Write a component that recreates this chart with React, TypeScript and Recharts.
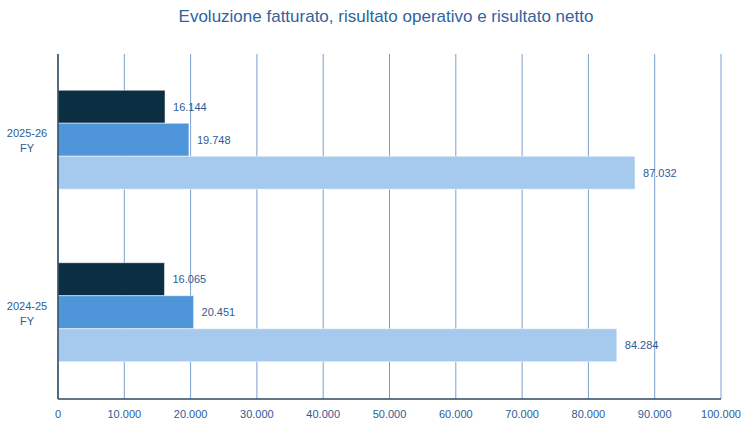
import React from 'react';
import { BarChart, Bar, XAxis, YAxis, CartesianGrid, LabelList } from 'recharts';

const categories = ['2025-26 FY', '2024-25 FY'];
const risultatoNetto = [16144, 16065];
const risultatoOperativo = [19748, 20451];
const fatturato = [87032, 84284];
const xTicks = [0, 10000, 20000, 30000, 40000, 50000, 60000, 70000, 80000, 90000, 100000];

const data = categories.map((name, i) => ({
  name,
  netto: risultatoNetto[i],
  operativo: risultatoOperativo[i],
  fatturato: fatturato[i],
}));

const fmt = (v: any) => String(Math.round(Number(v))).replace(/\B(?=(\d{3})+(?!\d))/g, '.');

const TEXT = '#2E5C96';
const FONT = '"Liberation Sans", Arial, sans-serif';

const YTick = (props: any) => {
  const { x, y, payload } = props;
  const parts = String(payload.value).split(' ');
  return (
    <g>
      <text x={27} y={y - 7} textAnchor="middle" dominantBaseline="central" fill={TEXT} fontSize={11} fontFamily={FONT}>
        {parts[0]}
      </text>
      <text x={27} y={y + 8} textAnchor="middle" dominantBaseline="central" fill={TEXT} fontSize={11} fontFamily={FONT}>
        {parts[1]}
      </text>
    </g>
  );
};

export default function App() {
  return (
    <div style={{ position: 'absolute', left: 0, top: 0, width: 753, height: 426, background: '#fff' }}>
      <div
        style={{
          position: 'absolute',
          left: 0,
          width: 772,
          top: 5,
          textAlign: 'center',
          fontFamily: '"Liberation Sans Narrow", "Liberation Sans", Arial, sans-serif',
          fontSize: 17,
          color: '#2F64A0',
          lineHeight: '24px',
        }}
      >
        Evoluzione fatturato, risultato operativo e risultato netto
      </div>
      <BarChart
        width={753}
        height={426}
        data={data}
        layout="vertical"
        margin={{ top: 54, right: 32, bottom: 0, left: 0 }}
        barCategoryGap="21%"
        barGap={0}
      >
        <CartesianGrid horizontal={false} stroke="#7B9FCC" strokeWidth={1} />
        <XAxis
          type="number"
          domain={[0, 100000]}
          ticks={xTicks}
          tickFormatter={fmt}
          interval={0}
          height={27}
          tickLine={false}
          tickSize={0}
          tickMargin={11}
          axisLine={{ stroke: '#2D4A5E', strokeWidth: 1.5 }}
          tick={{ fill: TEXT, fontSize: 11, fontFamily: FONT }}
        />
        <YAxis
          type="category"
          dataKey="name"
          width={58}
          tickLine={false}
          axisLine={{ stroke: '#2D4A5E', strokeWidth: 1.5 }}
          tick={<YTick />}
        />
        <Bar dataKey="netto" fill="#0B2E42" stroke="#ffffff" strokeOpacity={0.5} strokeWidth={1} isAnimationActive={false}>
          <LabelList dataKey="netto" position="right" offset={8} formatter={fmt} fill={TEXT} fontSize={11} fontFamily={FONT} />
        </Bar>
        <Bar dataKey="operativo" fill="#4E95DA" stroke="#ffffff" strokeOpacity={0.5} strokeWidth={1} isAnimationActive={false}>
          <LabelList dataKey="operativo" position="right" offset={8} formatter={fmt} fill={TEXT} fontSize={11} fontFamily={FONT} />
        </Bar>
        <Bar dataKey="fatturato" fill="#A6CAED" stroke="#ffffff" strokeOpacity={0.5} strokeWidth={1} isAnimationActive={false}>
          <LabelList dataKey="fatturato" position="right" offset={8} formatter={fmt} fill={TEXT} fontSize={11} fontFamily={FONT} />
        </Bar>
      </BarChart>
    </div>
  );
}
